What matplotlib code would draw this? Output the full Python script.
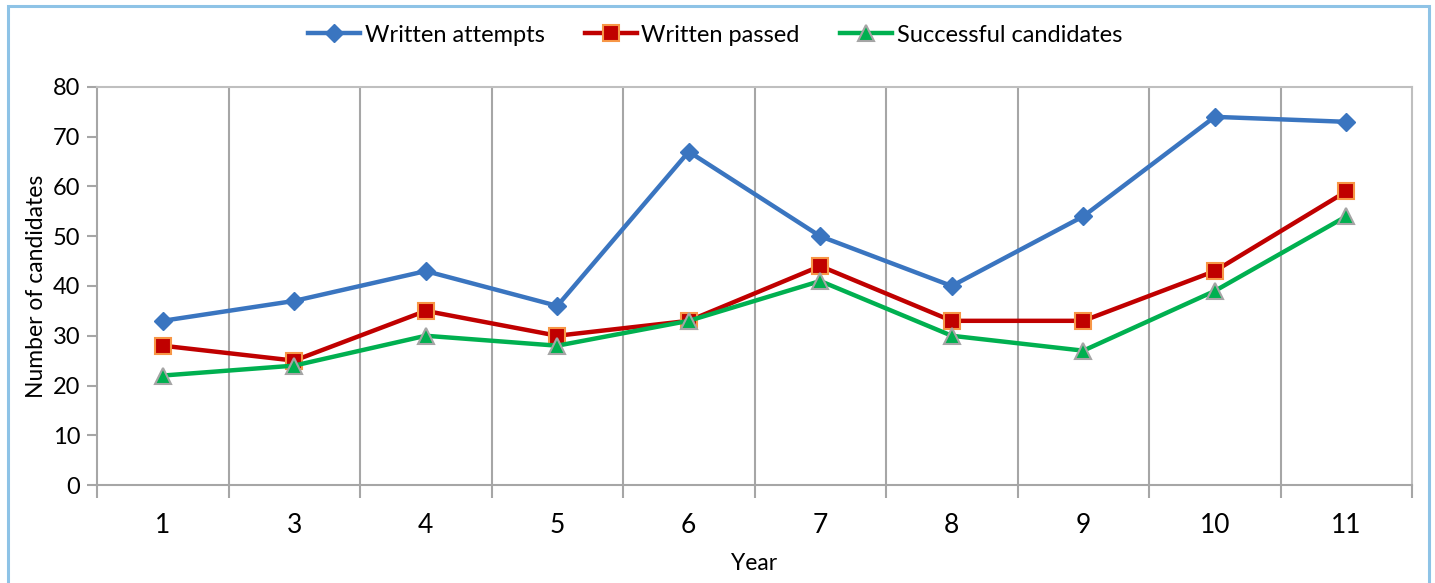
import matplotlib
matplotlib.use("Agg")
import matplotlib.pyplot as plt
from matplotlib.patches import Rectangle
import numpy as np

years = ["1", "3", "4", "5", "6", "7", "8", "9", "10", "11"]
written_attempts = [33, 37, 43, 36, 67, 50, 40, 54, 74, 73]
written_passed = [28, 25, 35, 30, 33, 44, 33, 33, 43, 59]
successful = [22, 24, 30, 28, 33, 41, 30, 27, 39, 54]

plt.rcParams["font.family"] = ["Lato", "DejaVu Sans"]

W, H, DPI = 1435, 583, 100
fig = plt.figure(figsize=(W / DPI, H / DPI), dpi=DPI)
fig.patch.set_facecolor("white")

# outer chart border
fig.add_artist(Rectangle((8 / W, -0.05), (1429 - 8) / W, 1.05 - 6 / H,
                         transform=fig.transFigure, fill=False,
                         edgecolor="#8EC3E6", linewidth=2.2))

left, right, top, bottom = 97, 1412, 87, 485
ax = fig.add_axes([left / W, 1 - bottom / H, (right - left) / W, (bottom - top) / H])

x = np.arange(len(years))
ax.plot(x, written_attempts, color="#3A75C0", lw=3.2, marker="D", ms=9,
        mfc="#3A75C0", mec="#3A75C0", label="Written attempts", zorder=3)
ax.plot(x, written_passed, color="#C00000", lw=3.2, marker="s", ms=11,
        mfc="#C00000", mec="#F79646", mew=1.5, label="Written passed", zorder=4)
ax.plot(x, successful, color="#00B050", lw=3.2, marker="^", ms=12,
        mfc="#00B050", mec="#A5A5A5", mew=1.5, label="Successful candidates", zorder=5)

ax.set_xlim(-0.5, len(years) - 0.5)
ax.set_ylim(0, 80)
ax.set_yticks(range(0, 81, 10))

# category labels centred, ticks and grid on category boundaries
ax.set_xticks(x)
ax.set_xticklabels(years, fontsize=19)
ax.tick_params(axis="x", which="major", length=0, pad=20, colors="black")
bounds = np.arange(-0.5, len(years), 1.0)
ax.set_xticks(bounds, minor=True)
ax.tick_params(axis="x", which="minor", length=9, width=1.5, color="#A6A6A6")
for b in bounds[1:-1]:
    ax.axvline(b, color="#A6A6A6", lw=1.5, zorder=1)

ax.tick_params(axis="y", length=7, width=1.5, color="#A6A6A6", labelsize=17, pad=5)

for s in ax.spines.values():
    s.set_color("#BFBFBF")
    s.set_linewidth(1.5)
ax.spines["left"].set_color("#A6A6A6")
ax.spines["bottom"].set_color("#A6A6A6")

ax.set_ylabel("Number of candidates", fontsize=16.5, labelpad=4)
ax.set_xlabel("Year", fontsize=16.5, labelpad=11)

fig.legend(loc="center", bbox_to_anchor=(715 / W, 1 - 35 / H), ncol=3,
           frameon=False, fontsize=17, handlelength=2.2, columnspacing=1.7,
           handletextpad=0.2)

fig.savefig("out.png", dpi=DPI)
